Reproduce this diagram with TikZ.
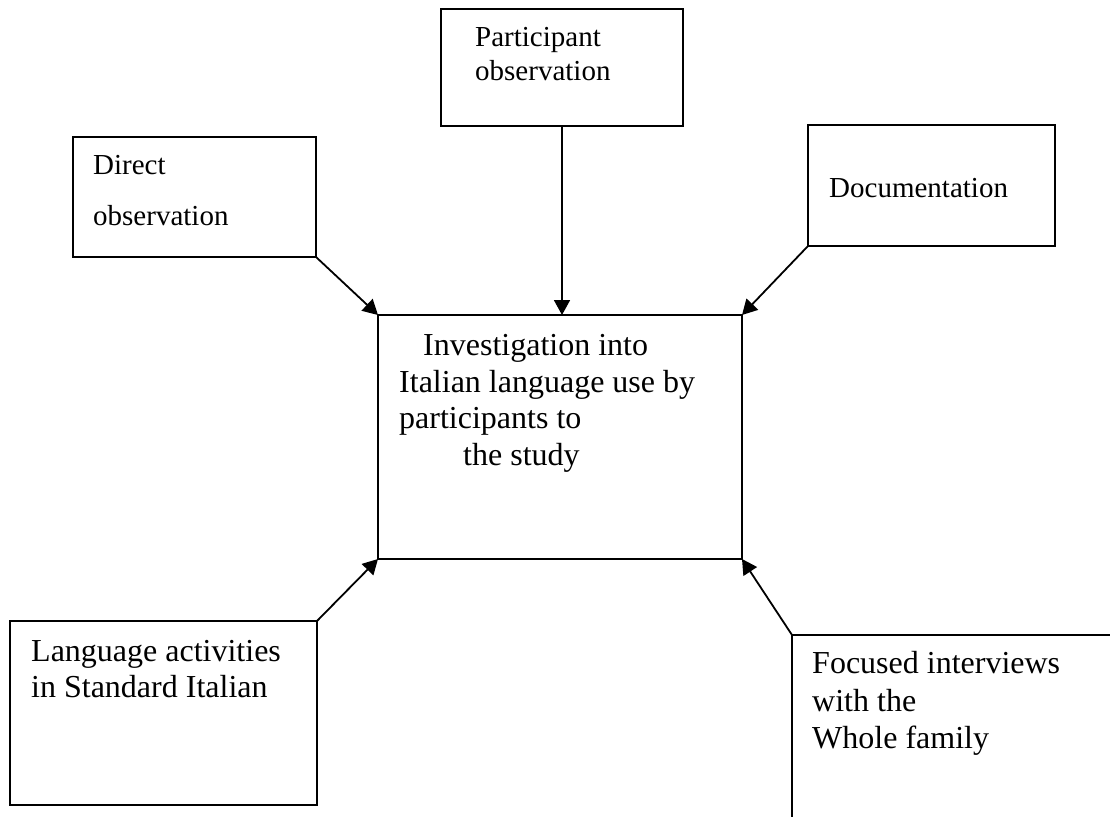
\documentclass[tikz,border=0pt]{standalone}
\usepackage{fontspec}
\setmainfont{Liberation Serif}
\usetikzlibrary{arrows.meta}
\tikzset{
  box/.style={draw, line width=1.8pt, rectangle, inner sep=0pt, outer sep=0pt, anchor=north west},
  smalltxt/.style={anchor=base west, inner sep=0pt, font=\fontsize{29}{33}\selectfont},
  bigtxt/.style={anchor=base west, inner sep=0pt, font=\fontsize{32}{37}\selectfont},
  conn/.style={line width=1.8pt, -{Triangle[length=15pt,width=16pt]}}
}
\begin{document}
\begin{tikzpicture}[x=1pt,y=-1pt]
\useasboundingbox (0,0) rectangle (1110,816);
\clip (0,0) rectangle (1110,816);
% boxes
\node[box, minimum width=242pt, minimum height=117pt] (par) at (441,9) {};
\node[box, minimum width=243pt, minimum height=120pt] (dir) at (73,137) {};
\node[box, minimum width=247pt, minimum height=121pt] (doc) at (808,125) {};
\node[box, minimum width=364pt, minimum height=244pt] (inv) at (378,315) {};
\node[box, minimum width=307pt, minimum height=184pt] (lang) at (10,621) {};
\node[box, minimum width=340pt, minimum height=220pt] (foc) at (792,635) {};
% texts
\node[smalltxt] (part1) at (475,47) {Participant};
\node[smalltxt] (part2) at (475,80) {observation};
\node[smalltxt] (dirt1) at (93,174) {Direct};
\node[smalltxt] (dirt2) at (93,225) {observation};
\node[smalltxt] (doct) at (829,197) {Documentation};
\node[bigtxt] (inv1) at (423,355) {Investigation into};
\node[bigtxt] (inv2) at (399,392) {Italian language use by};
\node[bigtxt] (inv3) at (399,428) {participants to};
\node[bigtxt] (inv4) at (463,465) {the study};
\node[bigtxt] (lang1) at (31,661) {Language activities};
\node[bigtxt] (lang2) at (31,697) {in Standard Italian};
\node[bigtxt] (foc1) at (812,673) {Focused interviews};
\node[bigtxt] (foc2) at (812,711) {with the};
\node[bigtxt] (foc3) at (812,748) {Whole family};
% connectors
\draw[conn] (dir.south east) -- (inv.north west);
\draw[conn] (par.south) -- (par.south |- inv.north);
\draw[conn] (doc.south west) -- (inv.north east);
\draw[conn] (lang.north east) -- (inv.south west);
\draw[conn] (foc.north west) -- (inv.south east);
\end{tikzpicture}
\end{document}
